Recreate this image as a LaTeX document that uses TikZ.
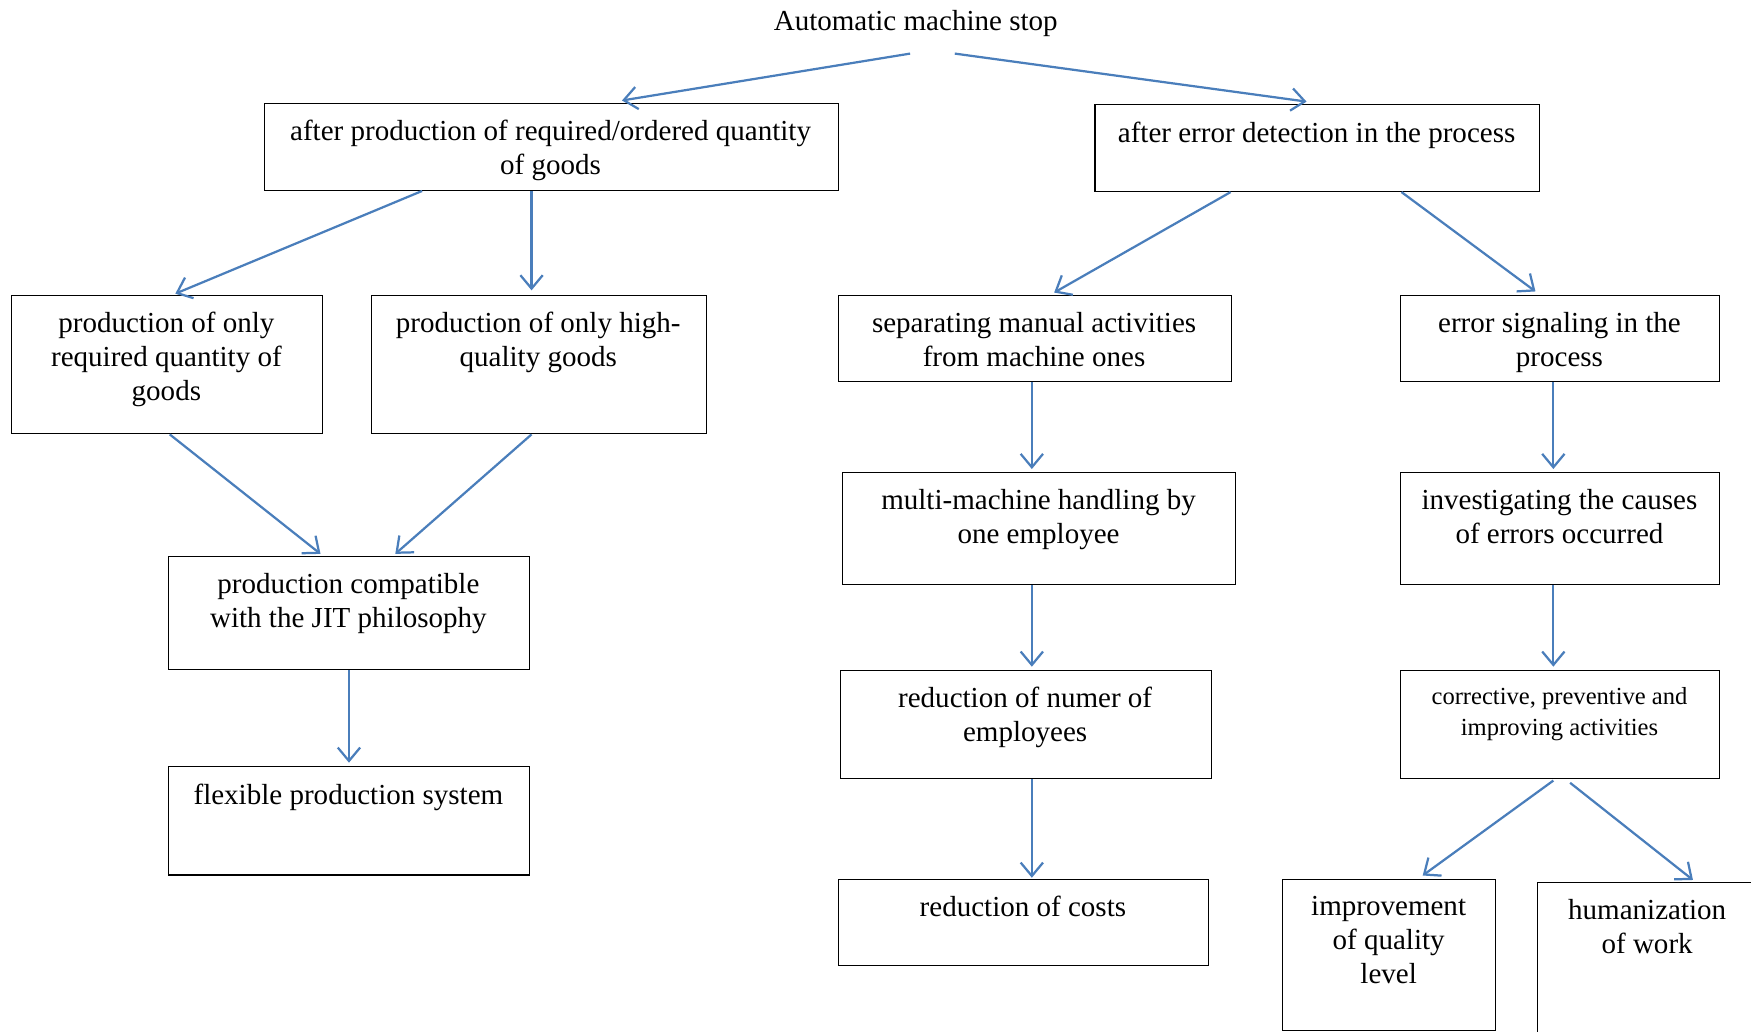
\documentclass[tikz,border=0pt]{standalone}
\usepackage{fontspec}
\setmainfont{Liberation Serif}
\usetikzlibrary{arrows.meta,calc}
\definecolor{arrblue}{HTML}{4A7EBB}
\tikzset{
  boxshape/.style={draw=black, line width=0.5pt, inner sep=0pt, rectangle},
  boxtext/.style={inner sep=0pt, align=center, anchor=north, font=\fontsize{13pt}{15.3pt}\selectfont},
  smalltext/.style={inner sep=0pt, align=center, anchor=north, font=\fontsize{11pt}{14pt}\selectfont},
  conn/.style={draw=arrblue, line width=1pt, -{Straight Barb[length=6pt,width=10pt]}},
}
\newcommand\bx[8]{%
  \node[boxshape, anchor=north west, minimum width={(#4-#2)*0.5pt}, minimum height={(#5-#3)*0.5pt}] (#1) at (#2,#3) {};
  \node[#7] (#1t) at ({(#2+#4)/2},#6-1) {#8};
}
\begin{document}
\begin{tikzpicture}[x=0.5pt,y=-0.5pt]
\clip (0,0) rectangle (1568,924);
\node[inner sep=0pt, font=\fontsize{13pt}{15.3pt}\selectfont] (title) at (820,21) {Automatic machine stop};
\bx{b1}{236}{92}{750}{170}{108}{boxtext}{after production of required/ordered quantity\\of goods}
\bx{b2}{980}{93}{1378}{171}{110}{boxtext}{after error detection in the process}
\bx{b3}{10}{264}{288}{388}{280}{boxtext}{production of only\\required quantity of\\goods}
\bx{b4}{332}{264}{632}{388}{280}{boxtext}{production of only high-\\quality goods}
\bx{b5}{150}{498}{474}{599}{514}{boxtext}{production compatible\\with the JIT philosophy}
\bx{b6}{150}{686}{474}{783}{703}{boxtext}{flexible production system}
\bx{b7}{750}{264}{1102}{341}{280}{boxtext}{separating manual activities\\from machine ones}
\bx{b8}{754}{423}{1106}{523}{439}{boxtext}{multi-machine handling by\\one employee}
\bx{b9}{752}{600}{1084}{697}{616}{boxtext}{reduction of numer of\\employees}
\bx{b10}{750}{787}{1082}{864}{803}{boxtext}{reduction of costs}
\bx{b11}{1254}{264}{1539}{341}{280}{boxtext}{error signaling in the\\process}
\bx{b12}{1254}{423}{1539}{523}{439}{boxtext}{investigating the causes\\of errors occurred}
\bx{b13}{1254}{600}{1539}{697}{616}{smalltext}{corrective, preventive and\\improving activities}
\bx{b14}{1148}{787}{1339}{922}{803}{boxtext}{improvement\\of quality\\level}
\bx{b15}{1376}{790}{1574}{960}{806}{boxtext}{humanization\\of work}
% connectors
\draw[conn] ($(title.center)+(-5,27)$) -- ($(b1.north west)+(321,-2)$);
\draw[conn] ($(title.center)+(35,27)$) -- ($(b2.north west)+(190,-2)$);
\draw[conn] ($(b1.south west)+(142,0)$) -- ($(b3.north west)+(147,-1)$);
\draw[conn] ($(b1.south west)+(240,0)$) -- ($(b4.north west)+(144,-4)$);
\draw[conn] ($(b3.south west)+(142,0)$) -- ($(b5.north west)+(137,-2)$);
\draw[conn] ($(b4.south west)+(144,0)$) -- ($(b5.north west)+(204,-2)$);
\draw[conn] (b5.south) -- ($(b6.north)+(0,-3)$);
\draw[conn] ($(b2.south west)+(122,0)$) -- ($(b7.north west)+(194,-2)$);
\draw[conn] ($(b2.south west)+(275,0)$) -- ($(b11.north west)+(121,-3)$);
\draw[conn] ($(b7.south west)+(174,0)$) -- ($(b8.north west)+(170,-3)$);
\draw[conn] ($(b8.south west)+(170,0)$) -- ($(b9.north west)+(172,-3)$);
\draw[conn] ($(b9.south west)+(172,0)$) -- ($(b10.north west)+(174,-1)$);
\draw[conn] ($(b11.south west)+(137,0)$) -- ($(b12.north west)+(137,-3)$);
\draw[conn] ($(b12.south west)+(137,0)$) -- ($(b13.north west)+(137,-3)$);
\draw[conn] ($(b13.south west)+(137,1)$) -- ($(b14.north west)+(126,-3)$);
\draw[conn] ($(b13.south west)+(152,3)$) -- ($(b15.north west)+(140,-2)$);
\end{tikzpicture}
\end{document}
